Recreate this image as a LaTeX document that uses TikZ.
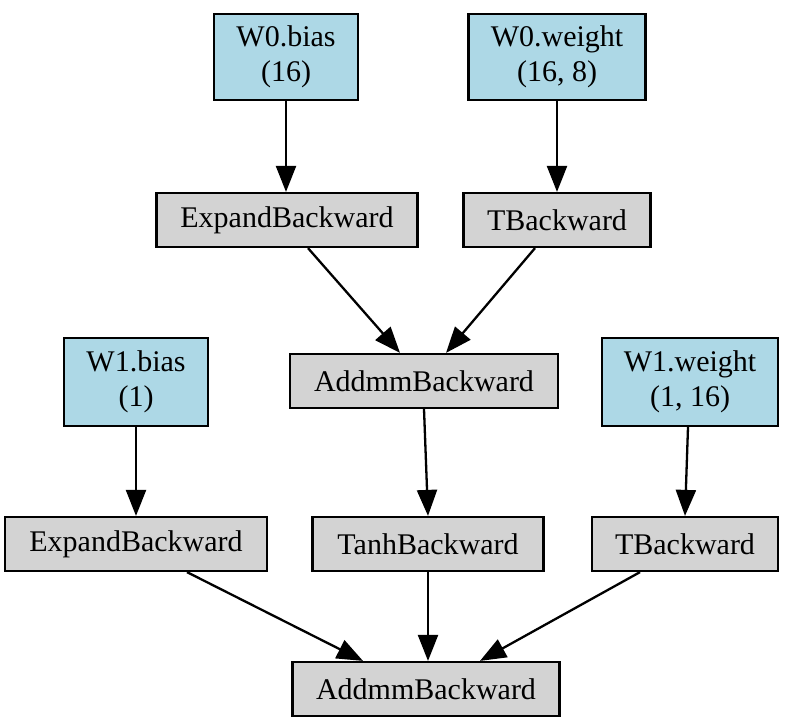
\documentclass[tikz,border=0pt]{standalone}
\usepackage{fontspec}
\setmainfont{Liberation Serif}
\usetikzlibrary{arrows.meta}
\definecolor{paramblue}{HTML}{ADD8E6}
\definecolor{opgray}{HTML}{D3D3D3}
\tikzset{
  base/.style={draw=black, line width=1.1pt, inner sep=0pt, align=center,
    font=\fontsize{15}{17.5}\selectfont},
  param/.style={base, fill=paramblue, minimum height=43pt},
  op/.style={base, fill=opgray, minimum height=27pt},
  arr/.style={line width=1.15pt, -{Triangle[length=13pt,width=10pt]}}
}
\begin{document}
\begin{tikzpicture}[x=0.5pt,y=-0.5pt]
\useasboundingbox (0,0) rectangle (791,727);
\node[param, minimum width=72pt]   (w0b) at (286,57)  {W0.bias\\(16)};
\node[param, minimum width=88.5pt] (w0w) at (557,57)  {W0.weight\\(16, 8)};
\node[op, minimum width=130.5pt]   (e1)  at (287,220) {\raisebox{-1pt}{ExpandBackward}};
\node[op, minimum width=93.5pt]    (t1)  at (557,220) {TBackward};
\node[op, minimum width=134pt]     (a1)  at (424,381) {AddmmBackward};
\node[param, minimum width=72pt, minimum height=44pt] (w1b) at (136,382) {W1.bias\\(1)};
\node[param, minimum width=88pt, minimum height=44pt] (w1w) at (690,382) {W1.weight\\(1, 16)};
\node[op, minimum width=131pt]     (e2)  at (136,544) {\raisebox{-1pt}{ExpandBackward}};
\node[op, minimum width=115.5pt]   (th)  at (428,544) {TanhBackward};
\node[op, minimum width=93pt]      (t2)  at (685,544) {TBackward};
\node[op, minimum width=133.5pt]   (a2)  at (426,689) {AddmmBackward};

\draw[arr] (w0b.south) -- (e1.north -| w0b.south);
\draw[arr] (w0w.south) -- (t1.north);
\draw[arr] ([xshift=10.5pt]e1.south) -- ([xshift=-12pt]a1.north);
\draw[arr] ([xshift=-11pt]t1.south) -- ([xshift=11pt]a1.north);
\draw[arr] (w1b.south) -- (e2.north);
\draw[arr] (a1.south) -- (th.north);
\draw[arr] ([xshift=-1pt]w1w.south) -- (t2.north);
\draw[arr] ([xshift=25.5pt]e2.south) -- ([xshift=-31.5pt]a2.north);
\draw[arr] (th.south) -- (th.south |- a2.north);
\draw[arr] ([xshift=-22.5pt]t2.south) -- ([xshift=27pt]a2.north);
\end{tikzpicture}
\end{document}
